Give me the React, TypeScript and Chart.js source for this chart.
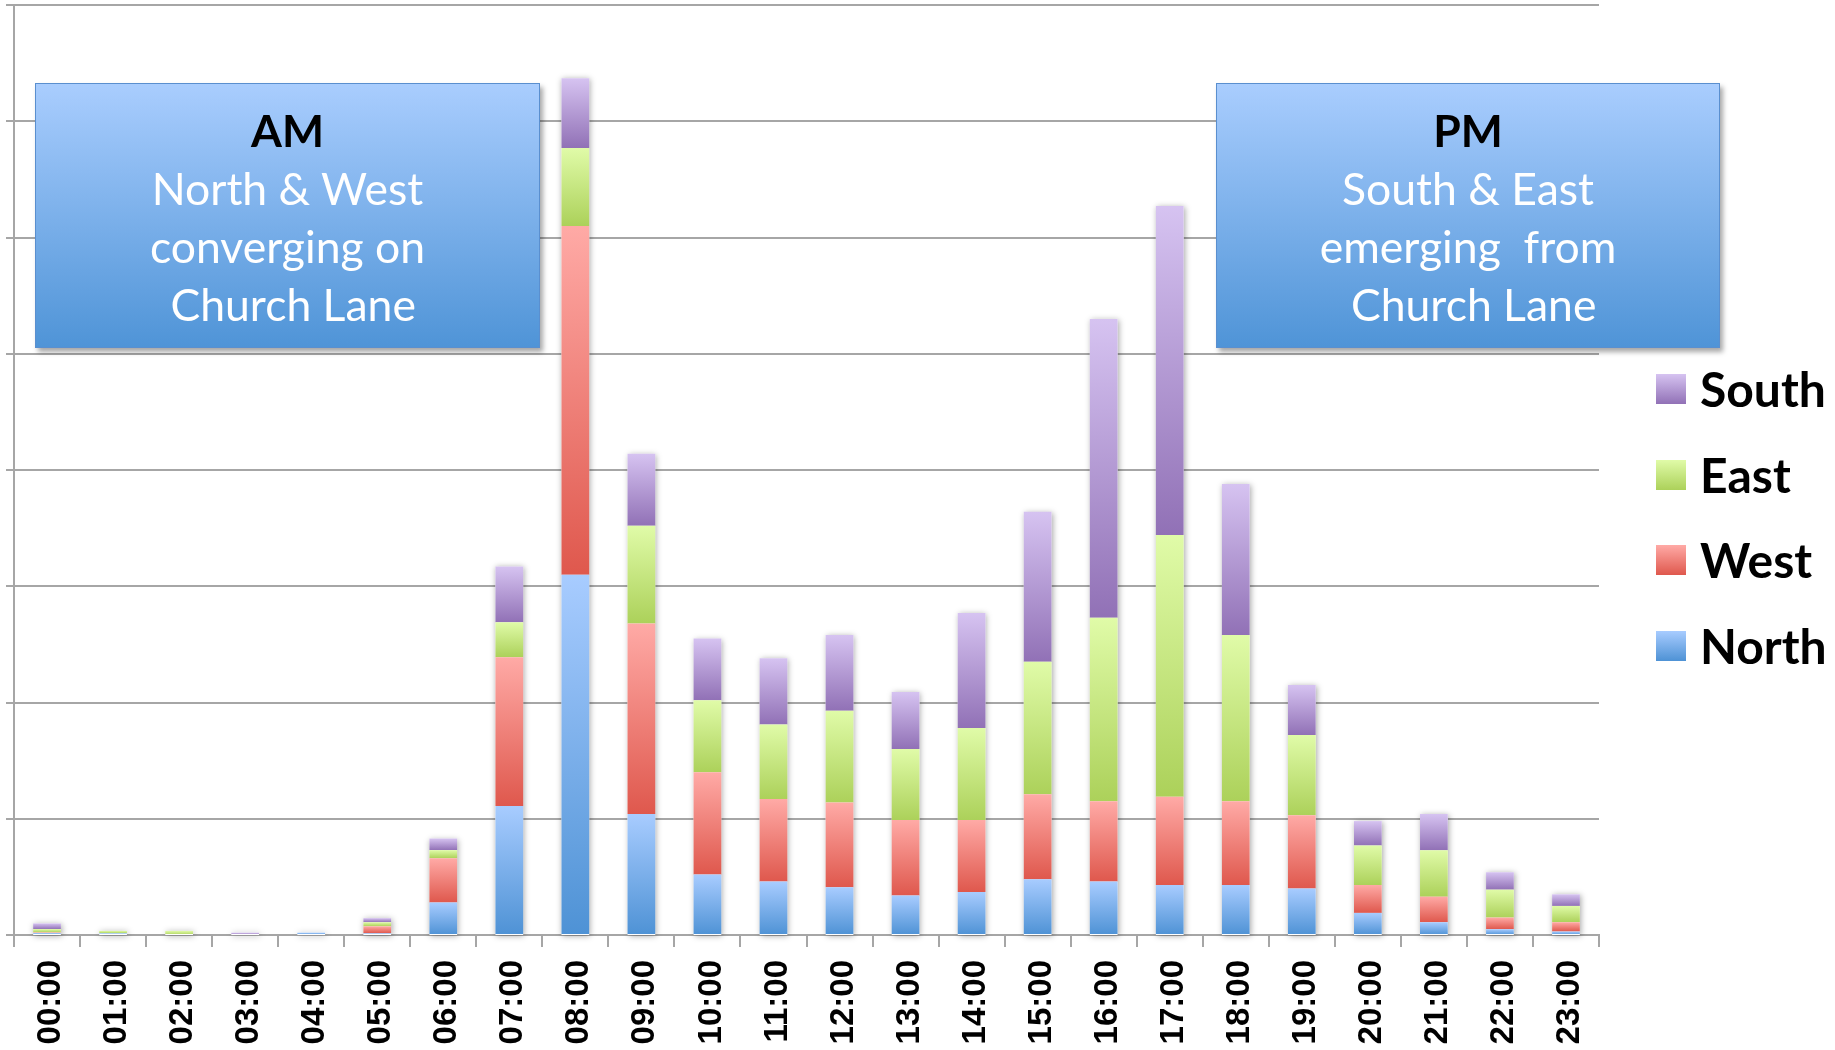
import React, { useEffect, useRef } from "react";
import { Chart, registerables } from "chart.js";

Chart.register(...registerables);

const hours = [
  "00:00", "01:00", "02:00", "03:00", "04:00", "05:00", "06:00", "07:00",
  "08:00", "09:00", "10:00", "11:00", "12:00", "13:00", "14:00", "15:00",
  "16:00", "17:00", "18:00", "19:00", "20:00", "21:00", "22:00", "23:00",
];

const north = [1.7, 1.5, 0, 0, 2, 1.5, 28, 111, 310, 104, 52, 46, 41, 34, 37, 48, 46, 43, 43, 40, 19, 11, 5, 3];
const west = [0.5, 0, 0, 0, 0, 6, 38, 128, 300, 164, 88, 71, 73, 65, 62, 73, 69, 76, 72, 63, 24, 22, 10, 8];
const east = [2.9, 2, 3.5, 0, 0, 3.5, 7, 30, 67, 84, 62, 64, 79, 61, 79, 114, 158, 225, 143, 69, 34, 40, 24, 14];
const south = [4.9, 0, 0, 2, 0, 3.5, 10, 48, 60, 62, 53, 57, 65, 49, 99, 129, 257, 283, 130, 43, 21, 31, 15, 10];

const seriesNames = ["North", "West", "East", "South"];
const seriesValues = [north, west, east, south];
const seriesTop = ["#a8ccff", "#ffaaa6", "#e0fba8", "#d6c3f1"];
const seriesBottom = ["#4e92d5", "#df584d", "#acd15a", "#9171b6"];

const yMin = 0;
const yMax = 800;
const yStep = 100;

function makeGradient(idx: number) {
  return (ctx: any) => {
    const chart = ctx.chart;
    if (!chart.chartArea || ctx.type !== "data") return seriesBottom[idx];
    const i = ctx.dataIndex;
    let base = 0;
    for (let k = 0; k < idx; k++) base += seriesValues[k][i];
    const top = base + seriesValues[idx][i];
    const ys = chart.scales.y;
    const y0 = ys.getPixelForValue(top);
    const y1 = ys.getPixelForValue(base);
    if (!isFinite(y0) || !isFinite(y1) || y1 - y0 < 0.5) return seriesTop[idx];
    const g = chart.ctx.createLinearGradient(0, y0, 0, y1);
    g.addColorStop(0, seriesTop[idx]);
    g.addColorStop(1, seriesBottom[idx]);
    return g;
  };
}

const shadowPlugin = {
  id: "stackShadow",
  beforeDatasetsDraw(chart: any) {
    const ctx = chart.ctx;
    const meta = chart.getDatasetMeta(0);
    const ys = chart.scales.y;
    ctx.save();
    ctx.shadowColor = "rgba(0,0,0,0.35)";
    ctx.shadowBlur = 6;
    ctx.shadowOffsetX = 1;
    ctx.shadowOffsetY = 1;
    ctx.fillStyle = "#ffffff";
    meta.data.forEach((el: any, i: number) => {
      let total = 0;
      for (let k = 0; k < seriesValues.length; k++) total += seriesValues[k][i];
      if (!total) return;
      const top = ys.getPixelForValue(total);
      const bottom = ys.getPixelForValue(0);
      const w = el.width;
      ctx.fillRect(el.x - w / 2, top, w, bottom - top);
    });
    ctx.restore();
  },
};

const boxBase: React.CSSProperties = {
  position: "absolute",
  top: 83,
  height: 265,
  boxSizing: "border-box",
  border: "1px solid #5a8fcf",
  background: "linear-gradient(to bottom, #a9cdfe 0%, #4f94d7 100%)",
  boxShadow: "3px 4px 5px rgba(0,0,0,0.35)",
  textAlign: "center",
  fontFamily: "Lato, sans-serif",
  fontSize: 44.5,
  lineHeight: "58px",
  color: "#ffffff",
  paddingTop: 17,
  whiteSpace: "pre",
};

const legendOrder = [3, 2, 1, 0];
const legendCenters = [389, 475, 560, 646];

export default function App() {
  const canvasRef = useRef<HTMLCanvasElement | null>(null);

  useEffect(() => {
    const canvas = canvasRef.current;
    if (!canvas) return;
    const chart = new Chart(canvas, {
      type: "bar",
      data: {
        labels: hours,
        datasets: seriesValues.map((vals, idx) => ({
          label: seriesNames[idx],
          data: vals,
          backgroundColor: makeGradient(idx),
          borderWidth: 0,
          categoryPercentage: 1,
          barPercentage: 0.42,
        })),
      },
      plugins: [shadowPlugin],
      options: {
        animation: false,
        responsive: false,
        maintainAspectRatio: false,
        layout: { padding: { left: 0, right: 236, top: 5, bottom: 0 } },
        plugins: {
          legend: { display: false },
          tooltip: { enabled: false },
        },
        scales: {
          x: {
            stacked: true,
            grid: {
              offset: true,
              drawOnChartArea: false,
              drawTicks: true,
              tickLength: 12,
              color: "#a6a6a6",
              lineWidth: 2,
            },
            border: { color: "#a6a6a6", width: 2 },
            ticks: {
              autoSkip: false,
              minRotation: 90,
              maxRotation: 90,
              padding: 13,
              labelOffset: 4,
              color: "#000000",
              font: { family: "Liberation Sans", weight: "bold", size: 33 },
            },
            afterFit: (s: any) => {
              s.height = 115;
            },
          },
          y: {
            stacked: true,
            min: yMin,
            max: yMax,
            ticks: { display: false, stepSize: yStep },
            grid: { color: "#a6a6a6", lineWidth: 2, tickLength: 8 },
            border: { color: "#a6a6a6", width: 2 },
            afterFit: (s: any) => {
              s.width = 14;
            },
          },
        },
      },
    } as any);
    return () => chart.destroy();
  }, []);

  return (
    <div style={{ position: "absolute", left: 0, top: 0, width: 1835, height: 1050, background: "#ffffff", overflow: "hidden" }}>
      <canvas ref={canvasRef} width={1835} height={1050} style={{ width: 1835, height: 1050, display: "block" }} />
      <div style={{ ...boxBase, left: 35, width: 505 }}>
        <div style={{ fontWeight: 700, color: "#000000" }}>AM</div>
        <div>North &amp; West</div>
        <div>converging on</div>
        <div>{" Church Lane"}</div>
      </div>
      <div style={{ ...boxBase, left: 1216, width: 504 }}>
        <div style={{ fontWeight: 700, color: "#000000" }}>PM</div>
        <div>South &amp; East</div>
        <div>{"emerging  from"}</div>
        <div>{" Church Lane"}</div>
      </div>
      {legendOrder.map((idx, r) => (
        <div
          key={seriesNames[idx]}
          style={{
            position: "absolute",
            left: 1656,
            top: legendCenters[r] - 30,
            height: 60,
            display: "flex",
            alignItems: "center",
          }}
        >
          <div
            style={{
              width: 30,
              height: 30,
              background: `linear-gradient(to bottom, ${seriesTop[idx]}, ${seriesBottom[idx]})`,
            }}
          />
          <div
            style={{
              marginLeft: 14,
              fontFamily: "Lato, sans-serif",
              fontWeight: 700,
              fontSize: 48,
              lineHeight: "60px",
              color: "#000000",
            }}
          >
            {seriesNames[idx]}
          </div>
        </div>
      ))}
    </div>
  );
}
